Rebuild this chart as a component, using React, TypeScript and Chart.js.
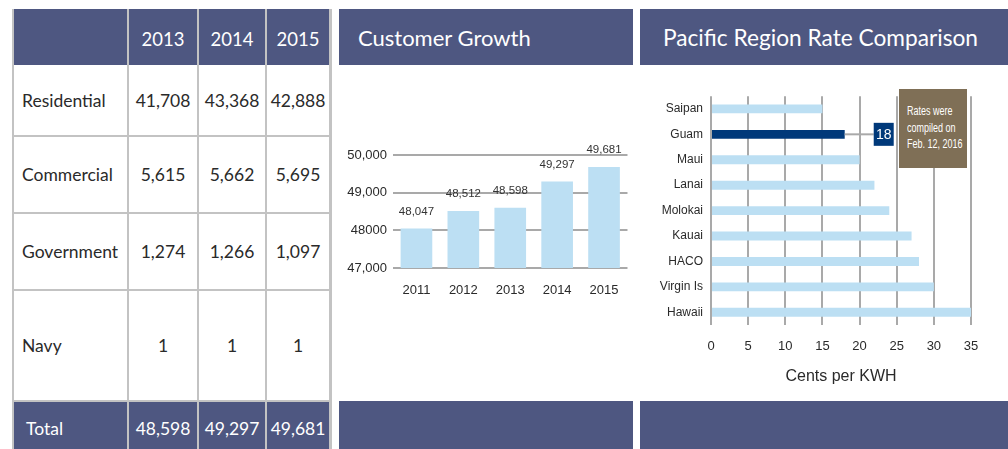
import React, { useEffect, useRef } from "react";
import { Chart, registerables } from "chart.js";

Chart.register(...registerables);

// ---------- data ----------
const tableYears = ["2013", "2014", "2015"];
const tableRowLabels = ["Residential", "Commercial", "Government", "Navy"];
const residential = [41708, 43368, 42888];
const commercial = [5615, 5662, 5695];
const government = [1274, 1266, 1097];
const navy = [1, 1, 1];
const totals = [48598, 49297, 49681];
const totalLabel = "Total";

const growthTitle = "Customer Growth";
const growthYears = ["2011", "2012", "2013", "2014", "2015"];
const growthValues = [48047, 48512, 48598, 49297, 49681];
const growthTickValues = [47000, 48000, 49000, 50000];
const growthTickLabels = ["47,000", "48000", "49,000", "50,000"];

const rateTitle = "Pacific Region Rate Comparison";
const rateRegions = ["Saipan", "Guam", "Maui", "Lanai", "Molokai", "Kauai", "HACO", "Virgin Is", "Hawaii"];
const rateValues = [15, 18, 20, 22, 24, 27, 28, 30, 35];
const rateHighlight = "Guam";
const rateAxisTitle = "Cents per KWH";
const rateNote = ["Rates were", "compiled on", "Feb. 12, 2016"];

// ---------- styles ----------
const NAVY_HEADER = "#4e5781";
const TABLE_LINE = "#c3c3c3";
const BAR_BLUE = "#bcdff3";
const BAR_DARK = "#00397a";
const GRID = "#a9a9a9";
const TEXT = "#2a2a2a";
const NOTE_BG = "#7f6f56";
const TABLE_FONT = "Lato, 'Noto Sans', sans-serif";
const NARROW = "'Liberation Sans Narrow', 'Arial Narrow', 'Liberation Sans', sans-serif";

const fmt = (n: number) => n.toLocaleString("en-US");

function DataTable() {
  const colX = [14, 129, 199, 267];
  const colW = [113, 68, 66, 62];
  const rowY = [9, 65, 137, 214, 291, 402];
  const rowH = [56, 70, 75, 75, 109, 60];
  const bodyRows = [residential, commercial, government, navy];
  const cells: React.ReactNode[] = [];
  const cell = (key: string, r: number, c: number, bg: string, content: React.ReactNode, style: React.CSSProperties) => {
    cells.push(
      <div
        key={key}
        style={{
          position: "absolute",
          left: colX[c],
          top: rowY[r],
          width: colW[c],
          height: rowH[r],
          background: bg,
          display: "flex",
          alignItems: "center",
          boxSizing: "border-box",
          ...style,
        }}
      >
        {content}
      </div>
    );
  };
  cell("h0", 0, 0, NAVY_HEADER, "", {});
  tableYears.forEach((y, i) =>
    cell("h" + (i + 1), 0, i + 1, NAVY_HEADER, y, {
      justifyContent: "center",
      color: "#fff",
      fontSize: 18.5,
      paddingTop: 4,
    })
  );
  tableRowLabels.forEach((lab, r) => {
    cell("l" + r, r + 1, 0, "#fff", lab, { paddingLeft: 8, color: TEXT, fontSize: 17.5 });
    bodyRows[r].forEach((v, c) =>
      cell("v" + r + c, r + 1, c + 1, "#fff", fmt(v), {
        justifyContent: "center",
        color: TEXT,
        fontSize: 17.5,
      })
    );
  });
  cell("t0", 5, 0, NAVY_HEADER, totalLabel, {
    paddingLeft: 12,
    color: "#fff",
    fontSize: 17.5,
    alignItems: "flex-start",
    paddingTop: 16,
  });
  totals.forEach((v, c) =>
    cell("t" + (c + 1), 5, c + 1, NAVY_HEADER, fmt(v), {
      justifyContent: "center",
      color: "#fff",
      fontSize: 17.5,
      alignItems: "flex-start",
      paddingTop: 16,
    })
  );
  return (
    <div>
      <div
        style={{
          position: "absolute",
          left: 12,
          top: 9,
          width: 320,
          height: 450,
          background: TABLE_LINE,
        }}
      />
      {cells}
    </div>
  );
}

function GrowthChart() {
  const ref = useRef<HTMLCanvasElement | null>(null);
  useEffect(() => {
    if (!ref.current) return;
    const labelPlugin = {
      id: "growthLabels",
      afterDatasetsDraw(chart: any) {
        const ctx = chart.ctx;
        const meta = chart.getDatasetMeta(0);
        ctx.save();
        ctx.font = `11.5px ${NARROW}`;
        ctx.fillStyle = "#333";
        ctx.textAlign = "center";
        ctx.textBaseline = "middle";
        meta.data.forEach((bar: any, i: number) => {
          ctx.fillText(fmt(growthValues[i]), bar.x, bar.y - 17);
        });
        ctx.restore();
      },
    };
    const chart = new Chart(ref.current, {
      type: "bar",
      data: {
        labels: growthYears,
        datasets: [
          {
            data: growthValues,
            backgroundColor: BAR_BLUE,
            borderWidth: 0,
            categoryPercentage: 1,
            barPercentage: 0.675,
          },
        ],
      },
      options: {
        responsive: false,
        animation: false,
        events: [],
        layout: { padding: { top: 30, right: 3, bottom: 17.2, left: 0 } },
        plugins: { legend: { display: false }, tooltip: { enabled: false } },
        scales: {
          x: {
            afterFit(scale: any) {
              scale.height = 29.8;
            },
            grid: { display: false, drawTicks: false },
            border: { display: false },
            ticks: { color: TEXT, font: { family: NARROW, size: 13 }, padding: 14.2 },
          },
          y: {
            min: 47000,
            max: 50000,
            afterFit(scale: any) {
              scale.width = 56;
            },
            afterBuildTicks(scale: any) {
              scale.ticks = growthTickValues.map((v) => ({ value: v }));
            },
            grid: { color: GRID, lineWidth: 2, drawTicks: false },
            border: { display: false },
            ticks: {
              color: TEXT,
              font: { family: NARROW, size: 13 },
              padding: 6,
              callback: (v: any) => {
                const i = growthTickValues.indexOf(Number(v));
                return i >= 0 ? growthTickLabels[i] : "";
              },
            },
          },
        },
      },
      plugins: [labelPlugin],
    });
    return () => chart.destroy();
  }, []);
  return (
    <canvas
      ref={ref}
      width={296}
      height={190}
      style={{ position: "absolute", left: 337, top: 125, width: 296, height: 190 }}
    />
  );
}

function RateChart() {
  const ref = useRef<HTMLCanvasElement | null>(null);
  useEffect(() => {
    if (!ref.current) return;
    const hi = rateRegions.indexOf(rateHighlight);
    const calloutPlugin = {
      id: "rateCallout",
      afterDatasetsDraw(chart: any) {
        const ctx = chart.ctx;
        const bar = chart.getDatasetMeta(0).data[hi];
        if (!bar) return;
        const boxL = bar.x + 29;
        const boxW = 20;
        const boxH = 23;
        ctx.save();
        ctx.strokeStyle = GRID;
        ctx.lineWidth = 2;
        ctx.beginPath();
        ctx.moveTo(bar.x, bar.y);
        ctx.lineTo(boxL, bar.y);
        ctx.stroke();
        ctx.fillStyle = BAR_DARK;
        ctx.fillRect(boxL, bar.y - boxH / 2, boxW, boxH);
        ctx.fillStyle = "#fff";
        ctx.font = `14px ${NARROW}`;
        ctx.textAlign = "center";
        ctx.textBaseline = "middle";
        ctx.fillText(String(rateValues[hi]), boxL + boxW / 2, bar.y + 1);
        ctx.restore();
      },
    };
    const chart = new Chart(ref.current, {
      type: "bar",
      data: {
        labels: rateRegions,
        datasets: [
          {
            data: rateValues,
            backgroundColor: rateRegions.map((r) => (r === rateHighlight ? BAR_DARK : BAR_BLUE)),
            borderWidth: 0,
            categoryPercentage: 1,
            barPercentage: 0.35,
          },
        ],
      },
      options: {
        indexAxis: "y",
        responsive: false,
        animation: false,
        events: [],
        layout: { padding: { top: 5, right: 37, bottom: 8.7, left: 0 } },
        plugins: { legend: { display: false }, tooltip: { enabled: false } },
        scales: {
          x: {
            min: 0,
            max: 35,
            afterFit(scale: any) {
              scale.height = 61.3;
            },
            grid: { color: GRID, lineWidth: 2, drawTicks: false },
            border: { display: false },
            ticks: { stepSize: 5, color: TEXT, font: { family: NARROW, size: 13 }, padding: 14 },
            title: {
              display: true,
              text: rateAxisTitle,
              color: TEXT,
              font: { family: NARROW, size: 16 },
              padding: { top: 12.5, bottom: 0 },
            },
          },
          y: {
            afterFit(scale: any) {
              scale.width = 66;
            },
            grid: { display: false, drawTicks: false },
            border: { display: false },
            ticks: { color: TEXT, font: { family: NARROW, size: 12 }, padding: 8 },
          },
        },
      },
      plugins: [calloutPlugin],
    });
    return () => chart.destroy();
  }, []);
  return (
    <canvas
      ref={ref}
      width={363}
      height={314}
      style={{ position: "absolute", left: 645, top: 81, width: 363, height: 314 }}
    />
  );
}

export default function App() {
  const header = (left: number, width: number): React.CSSProperties => ({
    position: "absolute",
    left,
    top: 9,
    width,
    height: 56,
    background: NAVY_HEADER,
    display: "flex",
    alignItems: "center",
  });
  return (
    <div
      style={{
        position: "absolute",
        left: 0,
        top: 0,
        width: 1008,
        height: 449,
        overflow: "hidden",
        background: "#fff",
        fontFamily: TABLE_FONT,
      }}
    >
      <DataTable />
      <div style={header(339, 294)}>
        <span style={{ color: "#fff", fontSize: 22, marginLeft: 19 }}>{growthTitle}</span>
      </div>
      <div style={header(640, 368)}>
        <span style={{ color: "#fff", fontSize: 22.7, marginLeft: 23 }}>{rateTitle}</span>
      </div>
      <GrowthChart />
      <RateChart />
      <div
        style={{
          position: "absolute",
          left: 899,
          top: 89,
          width: 68,
          height: 79,
          background: NOTE_BG,
          color: "#fff",
          fontFamily: NARROW,
          fontSize: 12.5,
          lineHeight: "16.7px",
          paddingLeft: 8,
          paddingTop: 14,
          boxSizing: "border-box",
        }}
      >
        {rateNote.map((l, i) => (
          <div key={i} style={{ whiteSpace: "nowrap", transform: "scaleX(0.72)", transformOrigin: "0 50%" }}>
            {l}
          </div>
        ))}
      </div>
      <div style={{ position: "absolute", left: 339, top: 401, width: 294, height: 48, background: NAVY_HEADER }} />
      <div style={{ position: "absolute", left: 640, top: 401, width: 368, height: 48, background: NAVY_HEADER }} />
    </div>
  );
}
